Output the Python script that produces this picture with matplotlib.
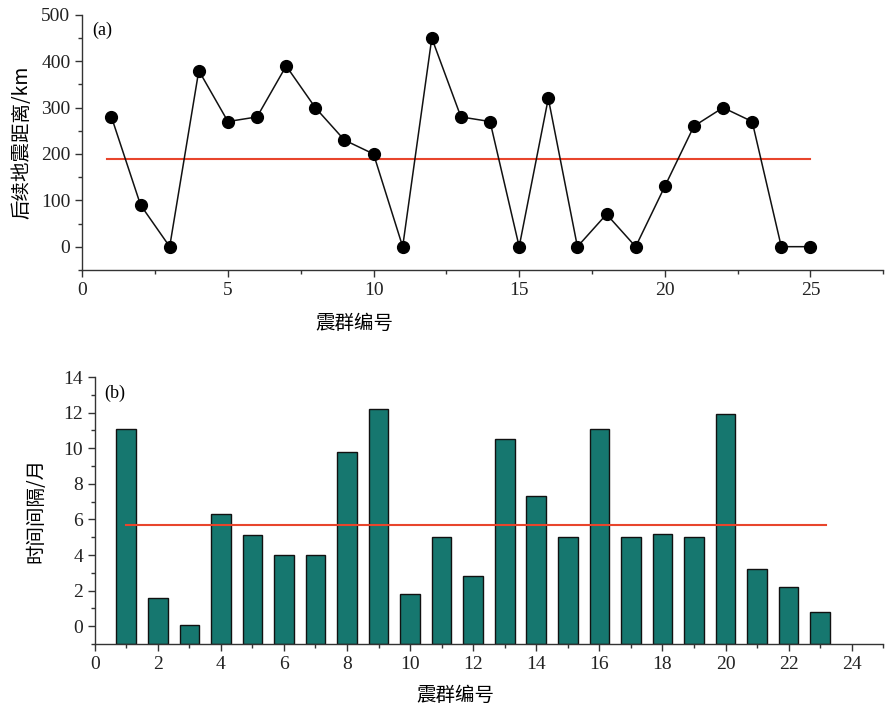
import numpy as np
import matplotlib
matplotlib.use("Agg")
from matplotlib import pyplot as plt
from matplotlib.ticker import MultipleLocator

plt.rcParams['font.family'] = ['Liberation Serif', 'Noto Sans CJK SC']
plt.rcParams['font.size'] = 13

# swarm index and distance to following quake (km)
swarm_a = list(range(1, 26))
dist_km = [280, 90, 0, 380, 270, 280, 390, 300, 230, 200, 0, 450, 280,
           270, 0, 320, 0, 70, 0, 130, 260, 300, 270, 0, 0]
dist_mean = 190

# swarm index and time interval (months)
swarm_b = list(range(1, 24))
gap_month = [11.1, 1.6, 0.08, 6.3, 5.1, 4.0, 4.0, 9.8, 12.2, 1.8, 5.0, 2.8,
             10.5, 7.3, 5.0, 11.1, 5.0, 5.2, 5.0, 11.9, 3.2, 2.2, 0.8]
gap_mean = 5.7

cjk = ['Noto Sans CJK SC']

fig = plt.figure(figsize=(8.85, 7.12), dpi=100)

def style_axis(ax):
    ax.spines['top'].set_visible(False)
    ax.spines['right'].set_visible(False)
    for s in ('left', 'bottom'):
        ax.spines[s].set_color('#333333')
        ax.spines[s].set_linewidth(1.0)
    ax.tick_params(which='major', direction='out', length=5, width=1, colors='#333333',
                   labelcolor='#222222', labelsize=14)
    ax.tick_params(which='minor', direction='out', length=3, width=1, colors='#333333')

# panel (a)
ax1 = fig.add_axes([0.093, 0.621, 0.905, 0.358])
ax1.plot(swarm_a, dist_km, color='#111111', lw=1.1, marker='o', ms=8.5,
         mfc='black', mec='black', zorder=3)
ax1.plot([0.85, 25], [dist_mean, dist_mean], color='#e8452c', lw=1.5, zorder=2)
ax1.set_xlim(0, 27.5)
ax1.set_ylim(-50, 500)
ax1.xaxis.set_major_locator(MultipleLocator(5))
ax1.xaxis.set_minor_locator(MultipleLocator(2.5))
ax1.yaxis.set_major_locator(MultipleLocator(100))
ax1.yaxis.set_minor_locator(MultipleLocator(50))
ax1.set_yticks([0, 100, 200, 300, 400, 500])
style_axis(ax1)
ax1.set_xlabel('震群编号', family=cjk, fontsize=14)
ax1.xaxis.set_label_coords(0.34, -0.17)
ax1.set_ylabel('后续地震距离/km', family=cjk + ['Liberation Serif'], fontsize=14, labelpad=6)
ax1.text(0.012, 0.94, '(a)', transform=ax1.transAxes, fontsize=13, va='center')

# panel (b)
ax2 = fig.add_axes([0.107, 0.0955, 0.891, 0.375])
ymin_b = -1
ax2.bar(swarm_b, np.array(gap_month) - ymin_b, bottom=ymin_b, width=0.62,
        color='#16776f', edgecolor='#111111', linewidth=1.0, zorder=2)
ax2.plot([1, 23.2], [gap_mean, gap_mean], color='#e8452c', lw=1.5, zorder=3)
ax2.set_xlim(0, 25)
ax2.set_ylim(ymin_b, 14)
ax2.xaxis.set_major_locator(MultipleLocator(2))
ax2.xaxis.set_minor_locator(MultipleLocator(1))
ax2.yaxis.set_major_locator(MultipleLocator(2))
ax2.yaxis.set_minor_locator(MultipleLocator(1))
ax2.set_yticks(range(0, 15, 2))
style_axis(ax2)
ax2.set_xlabel('震群编号', family=cjk, fontsize=14)
ax2.xaxis.set_label_coords(0.457, -0.155)
ax2.set_ylabel('时间间隔/月', family=cjk, fontsize=14, labelpad=12)
ax2.text(0.012, 0.94, '(b)', transform=ax2.transAxes, fontsize=13, va='center')

fig.savefig('out.png', dpi=100)
